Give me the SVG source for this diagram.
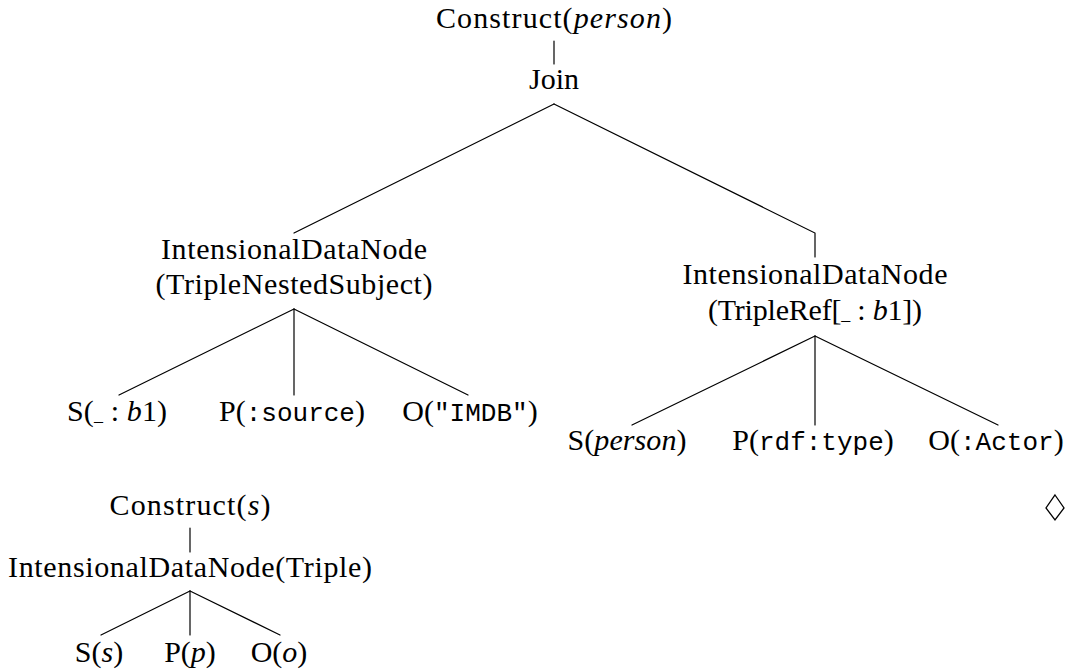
<svg xmlns="http://www.w3.org/2000/svg" width="1067" height="670" viewBox="0 0 1067 670">
  <style>
    text { font-family: "Liberation Serif", "Times New Roman", serif; font-size: 30px; fill: #000; text-anchor: middle; }
    .m { font-style: italic; }
    .tt { font-family: "Liberation Mono", "Courier New", monospace; font-size: 26px; }
    .sub { font-size: 18px; }
    .edge { stroke: #000; stroke-width: 1.2; fill: none; stroke-linecap: round; }
  </style>
  <rect width="1067" height="670" fill="#fff"/>

  <!-- connectors -->
  <g id="connectors">
    <!-- upper tree -->
    <line class="edge" x1="554" y1="41" x2="554" y2="64"/>
    <polyline class="edge" points="554,104 294,233"/>
    <polyline class="edge" points="554,104 815,233 815,257"/>
    <line class="edge" x1="294" y1="309" x2="119" y2="395"/>
    <line class="edge" x1="294" y1="309" x2="294" y2="395"/>
    <line class="edge" x1="294" y1="309" x2="468" y2="395"/>
    <line class="edge" x1="815" y1="336" x2="632" y2="425"/>
    <line class="edge" x1="815" y1="336" x2="815" y2="425"/>
    <line class="edge" x1="815" y1="336" x2="998" y2="425"/>
    <!-- lower tree -->
    <line class="edge" x1="190" y1="528" x2="190" y2="552"/>
    <line class="edge" x1="190" y1="591" x2="101" y2="635"/>
    <line class="edge" x1="190" y1="591" x2="190" y2="635"/>
    <line class="edge" x1="190" y1="591" x2="280" y2="635"/>
  </g>

  <!-- upper tree nodes -->
  <g id="construct-person">
    <text x="554" y="28" textLength="236" lengthAdjust="spacing">Construct(<tspan class="m">person</tspan>)</text>
  </g>
  <g id="join">
    <text x="554" y="89">Join</text>
  </g>
  <g id="idn-nested">
    <text x="294" y="259" textLength="266" lengthAdjust="spacing">IntensionalDataNode</text>
    <text x="294" y="294" textLength="277" lengthAdjust="spacing">(TripleNestedSubject)</text>
  </g>
  <g id="idn-ref">
    <text x="815" y="284" textLength="265" lengthAdjust="spacing">IntensionalDataNode</text>
    <text x="815" y="320" textLength="214" lengthAdjust="spacing">(TripleRef[<tspan class="sub">_</tspan> : <tspan class="m">b</tspan>1])</text>
  </g>
  <g id="s-b1">
    <text x="117" y="421" textLength="100" lengthAdjust="spacing">S(<tspan class="sub">_</tspan> : <tspan class="m">b</tspan>1)</text>
  </g>
  <g id="p-source">
    <text x="292" y="421">P(<tspan class="tt">:source</tspan>)</text>
  </g>
  <g id="o-imdb">
    <text x="470" y="421">O(<tspan class="tt">"IMDB"</tspan>)</text>
  </g>
  <g id="s-person">
    <text x="627" y="450" textLength="119" lengthAdjust="spacing">S(<tspan class="m">person</tspan>)</text>
  </g>
  <g id="p-rdftype">
    <text x="813" y="450">P(<tspan class="tt">rdf:type</tspan>)</text>
  </g>
  <g id="o-actor">
    <text x="996" y="450">O(<tspan class="tt">:Actor</tspan>)</text>
  </g>

  <!-- lower tree nodes -->
  <g id="construct-s">
    <text x="190" y="515" textLength="161" lengthAdjust="spacing">Construct(<tspan class="m">s</tspan>)</text>
  </g>
  <g id="idn-triple">
    <text x="190" y="577" textLength="364" lengthAdjust="spacing">IntensionalDataNode(Triple)</text>
  </g>
  <g id="s-s">
    <text x="99" y="662">S(<tspan class="m">s</tspan>)</text>
  </g>
  <g id="p-p">
    <text x="190" y="662">P(<tspan class="m">p</tspan>)</text>
  </g>
  <g id="o-o">
    <text x="279" y="662">O(<tspan class="m">o</tspan>)</text>
  </g>

  <!-- end-of-example mark -->
  <g id="qed">
    <polygon points="1055,495 1064,508 1055,520 1046,508" fill="none" stroke="#000" stroke-width="1.3"/>
  </g>
</svg>
